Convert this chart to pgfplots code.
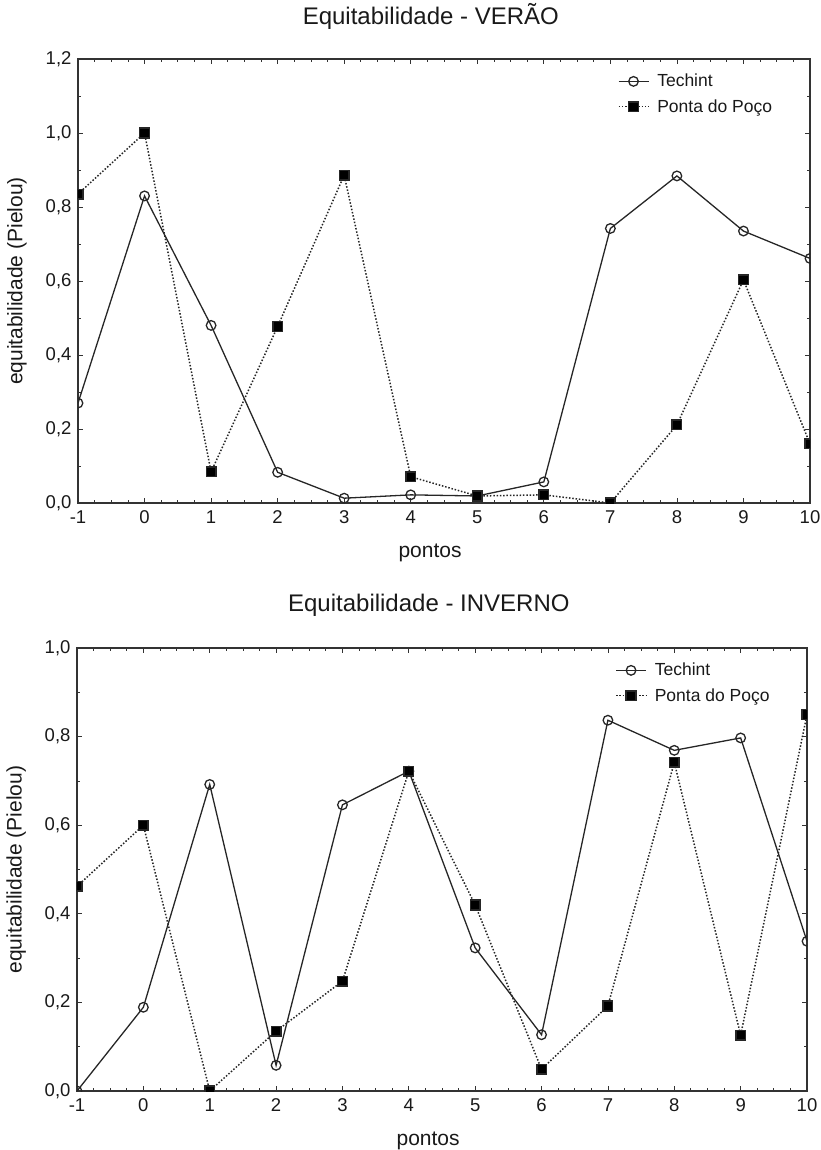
\documentclass[border=0pt]{standalone}
\usepackage{fontspec}
\setmainfont{Liberation Sans}
\usepackage{pgfplots}
\pgfplotsset{compat=1.18}

\pgfplotsset{
 myaxis/.style={
  scale only axis,
  xmin=-1, xmax=10,
  ymin=0,
  xtick={-1,0,...,10},
  minor x tick num=3,
  minor y tick num=1,
  tick align=inside,
  major tick length=5pt,
  minor tick length=3pt,
  axis line style={line width=1.3pt, black!80},
  every tick/.style={black!80, line width=0.8pt},
  tick label style={font=\fontsize{18.5}{21}\selectfont, text=black!90},
  /pgf/number format/assume math mode=true,
  yticklabel style={xshift=-3pt, /pgf/number format/.cd, fixed, fixed zerofill, precision=1, use comma},
  xticklabel style={yshift=-4pt, /pgf/number format/.cd, fixed, precision=0},
  every axis x label/.style={at={(axis description cs:0.481,-0.1126)}, anchor=center, font=\fontsize{21}{24}\selectfont, text=black!90},
  every axis y label/.style={at={(axis description cs:-0.0833,0.5)}, rotate=90, anchor=center, font=\fontsize{21}{24}\selectfont, text=black!90},
  xlabel={pontos},
  ylabel={equitabilidade (Pielou)},
  title style={font=\fontsize{24}{28}\selectfont, text=black!90, at={(axis description cs:0.482,1.083)}, anchor=center},
  clip marker paths=true,
  legend style={draw=none, fill=none, at={(axis description cs:0.733,0.975)}, anchor=north west, font=\fontsize{17.5}{20}\selectfont, text=black!90, row sep=7pt, nodes={inner xsep=8pt}},
  legend cell align=left,
  legend image code/.code={\draw[mark repeat=2,mark phase=2] plot coordinates {(0pt,0pt) (15pt,0pt) (30pt,0pt)};},
 },
 tech/.style={black!85, line width=1.3pt, mark=o, mark size=4.8pt, mark options={solid, fill=white, line width=1.3pt}},
 ponta/.style={black!85, line width=1.5pt, dash pattern=on 1.5pt off 1.8pt, mark=square*, mark size=4.8pt, mark options={solid, fill=black}},
}

\begin{document}
\begin{tikzpicture}
\useasboundingbox (0pt,0pt) rectangle (820pt,-1150pt);
\begin{axis}[myaxis, at={(78pt,-503pt)}, anchor=south west, width=732pt, height=444pt,
  ymax=1.2, ytick={0,0.2,...,1.2}, title={Equitabilidade - VERÃO}]
\addplot[tech] coordinates {(-1,0.27)(0,0.83)(1,0.48)(2,0.083)(3,0.013)(4,0.022)(5,0.019)(6,0.057)(7,0.742)(8,0.884)(9,0.735)(10,0.661)};
\addlegendentry{Techint}
\addplot[ponta] coordinates {(-1,0.835)(0,1.0)(1,0.084)(2,0.477)(3,0.886)(4,0.071)(5,0.019)(6,0.022)(7,0.0)(8,0.211)(9,0.603)(10,0.16)};
\addlegendentry{Ponta do Poço}
\end{axis}
\begin{axis}[myaxis, at={(77pt,-1091pt)}, anchor=south west, width=730pt, height=443pt,
  ymax=1.0, ytick={0,0.2,...,1.0}, title={Equitabilidade - INVERNO}]
\addplot[tech] coordinates {(-1,0)(0,0.189)(1,0.692)(2,0.058)(3,0.646)(4,0.722)(5,0.323)(6,0.127)(7,0.837)(8,0.769)(9,0.797)(10,0.338)};
\addlegendentry{Techint}
\addplot[ponta] coordinates {(-1,0.462)(0,0.6)(1,0)(2,0.135)(3,0.248)(4,0.722)(5,0.42)(6,0.049)(7,0.192)(8,0.742)(9,0.126)(10,0.85)};
\addlegendentry{Ponta do Poço}
\end{axis}
\end{tikzpicture}
\end{document}
